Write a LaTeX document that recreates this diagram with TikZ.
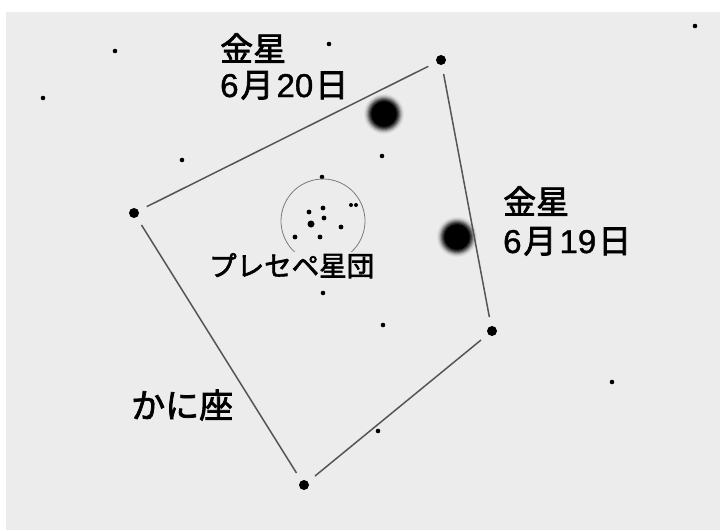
\documentclass[tikz,border=0pt]{standalone}
\usepackage{fontspec}
\setmainfont{Noto Sans CJK JP}[RawFeature={embolden=2.2}]
\newfontfamily\digitfont{Liberation Sans}[RawFeature={embolden=1.2}]
\definecolor{bgc}{HTML}{ECECEC}
\definecolor{figline}{HTML}{555555}
\definecolor{ringline}{HTML}{7A7A7A}
\tikzset{
  vertexstar/.style={circle, fill=black, inner sep=0pt, minimum size=10pt},
  fieldstar/.style={circle, fill=black, inner sep=0pt, minimum size=4.6pt},
  clusterstar/.style={circle, fill=black, inner sep=0pt, minimum size=4.8pt},
  figedge/.style={draw=figline, line width=1.5pt, shorten <=9pt, shorten >=9pt},
  biglabel/.style={inner sep=0pt, anchor=base west, font=\fontsize{33}{38}\selectfont},
}
% soft-edged disc: a solid core wrapped in rings fading into the sky
\newcommand{\glowdisc}[1]{%
  \foreach \rr/\cc in {20/5, 19/12, 18/22, 17/36, 16/52, 15/68, 14/82, 13/93}
    \fill[black!\cc!bgc] #1 circle[radius=\rr];
  \fill[black] #1 circle[radius=12.5];
}
\newcommand{\dg}[1]{{\digitfont #1}}
\begin{document}
\begin{tikzpicture}[x=1pt, y=-1pt]
  \useasboundingbox (0,0) rectangle (720,530);
  % sky background
  \fill[bgc] (6,12) rectangle (720,530);

  % Venus on two nights
  \coordinate (venus20) at (384,114);
  \coordinate (venus19) at (457,237);
  \glowdisc{(venus20)}
  \glowdisc{(venus19)}

  % Cancer figure vertices
  \node[vertexstar] (a) at (134,213) {};
  \node[vertexstar] (b) at (441,60) {};
  \node[vertexstar] (c) at (492,331) {};
  \node[vertexstar] (d) at (304,485) {};
  \draw[figedge] (a) -- (b);
  \draw[figedge] (b) -- (c);
  \draw[figedge] (c) -- (d);
  \draw[figedge] (d) -- (a);

  % field stars
  \node[fieldstar] (s1) at (115,51) {};
  \node[fieldstar] (s2) at (329,44) {};
  \node[fieldstar] (s3) at (43,98) {};
  \node[fieldstar] (s4) at (695,26) {};
  \node[fieldstar] (s5) at (182,160) {};
  \node[fieldstar] (s6) at (382,156) {};
  \node[fieldstar] (s7) at (322,177) {};
  \node[fieldstar] (s8) at (323,293) {};
  \node[fieldstar] (s9) at (383,325) {};
  \node[fieldstar] (s10) at (612,382) {};
  \node[fieldstar] (s11) at (378,431) {};

  % Praesepe ring
  \coordinate (ring) at (323,221);
  \draw[ringline, line width=0.8pt] (ring) ++(120:42) arc[start angle=120, end angle=435, radius=42];
  \draw[ringline, line width=0.8pt, dash pattern=on 5pt off 5pt] (ring) ++(75:42) arc[start angle=75, end angle=120, radius=42];

  % Praesepe members
  \node[clusterstar] (p1) at (309,212) {};
  \node[clusterstar] (p2) at (323,208) {};
  \node[clusterstar] (p3) at (324,218) {};
  \node[clusterstar, minimum size=7pt] (p4) at (311,224) {};
  \node[clusterstar] (p5) at (341,227) {};
  \node[clusterstar] (p6) at (295,237) {};
  \node[clusterstar] (p7) at (320,237) {};
  \node[clusterstar, minimum size=4pt] (p8) at (351,205) {};
  \node[clusterstar, minimum size=4pt] (p9) at (356,205) {};

  % labels
  \node[biglabel] (v20a) at (220,61) {金星};
  \node[biglabel] (v20b) at (220,97) {\dg{6}\kern2pt月\kern3pt\dg{20}\kern2pt日};
  \node[biglabel] (v19a) at (503,214) {金星};
  \node[biglabel] (v19b) at (503,253) {\dg{6}\kern2pt月\kern3pt\dg{19}\kern2pt日};
  \node[inner sep=1pt, fill=bgc, anchor=base west, font=\fontsize{27.5}{32}\selectfont] (praesepe) at (208,276) {プレセペ星団};
  \node[biglabel, font=\fontsize{34}{40}\selectfont] (cancer) at (131,418) {かに座};
\end{tikzpicture}
\end{document}
